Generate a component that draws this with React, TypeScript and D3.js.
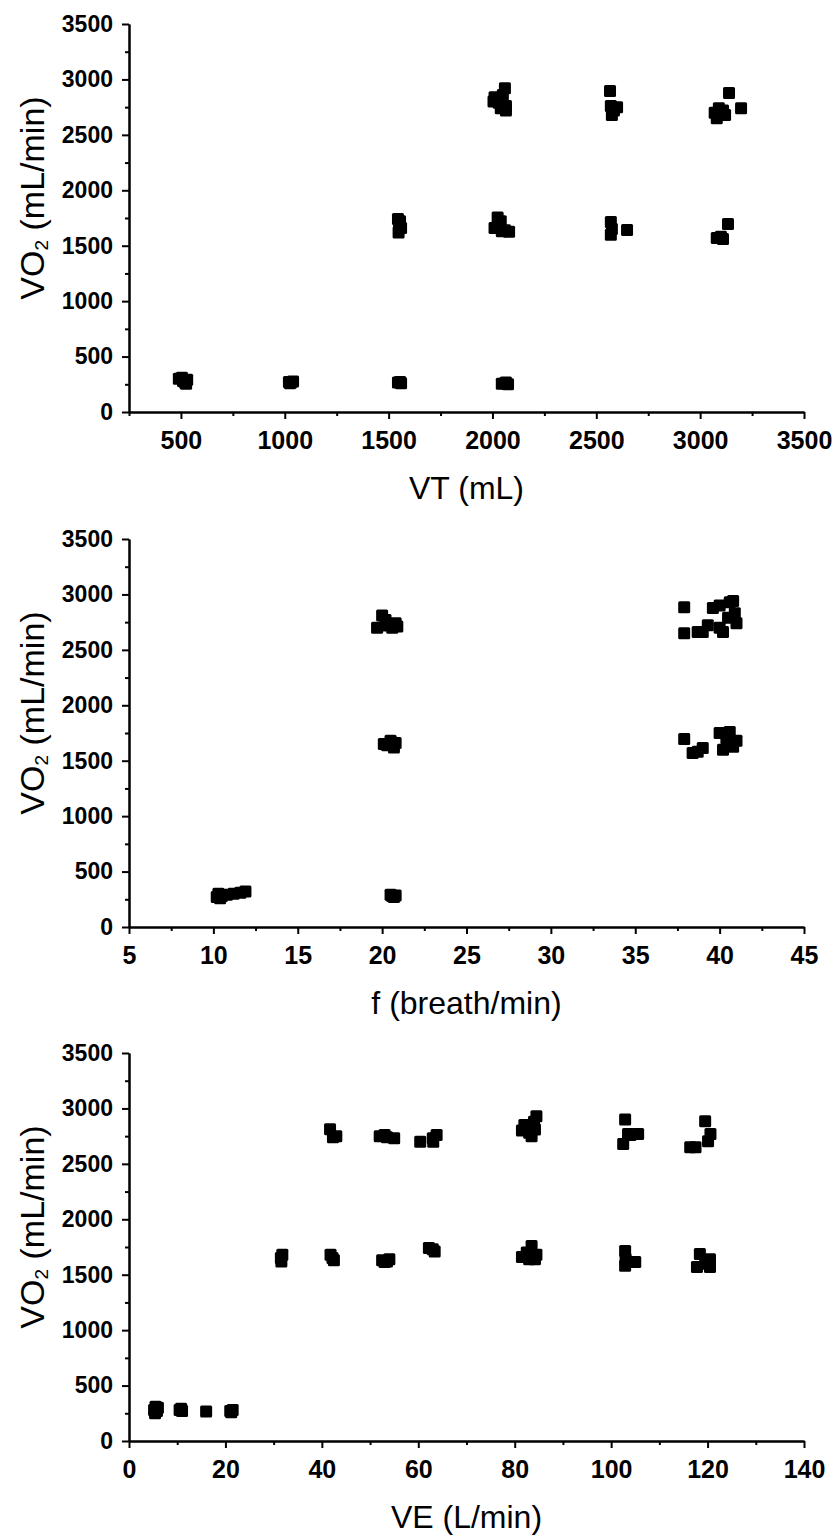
import React, { useEffect, useRef } from 'react';
import * as d3 from 'd3';

// VO2 vs tidal volume
const vtValues = [
  490, 510, 520, 530, 505, 525,
  1020, 1030, 1040, 1025,
  1545, 1560, 1555,
  2045, 2060, 2075, 2065,
  1545, 1550, 1560, 1548, 1555,
  2005, 2010, 2030, 2060, 2050, 2065, 2040, 2020, 2065,
  2566, 2570, 2585, 2600, 2575,
  3070, 3090, 3110, 3080, 3120, 3139, 3197,
  2025, 2040, 2010, 2060, 2080, 2045,
  2570, 2575, 2570, 2648,
  3080, 3100, 3110, 3134,
];
const vtVo2 = [
  300, 280, 265, 290, 310, 255,
  270, 265, 275, 260,
  265, 260, 270,
  255, 260, 250, 265,
  1740, 1700, 1660, 1620, 1720,
  2800, 2840, 2790, 2920, 2860, 2760, 2740, 2810, 2720,
  2895, 2760, 2720, 2750, 2680,
  2700, 2740, 2720, 2650, 2680, 2877, 2740,
  1754, 1720, 1660, 1640, 1625, 1630,
  1713, 1650, 1600, 1641,
  1570, 1580, 1560, 1695,
];

// VO2 vs breathing frequency
const fValues = [
  10.2, 10.3, 10.5, 10.8, 11.2, 11.6, 11.9, 10.4,
  20.5, 20.7, 20.6, 20.8,
  20.1, 20.5, 20.7, 20.8, 20.3,
  19.7, 20.0, 20.3, 20.6, 20.8, 20.2, 20.9,
  37.9, 37.9, 38.7, 39.3, 39.6, 40.0, 40.0, 40.6, 40.9, 41.0, 40.5, 40.2, 40.8, 39.0,
  37.9, 38.4, 39.0, 40.0, 40.6, 40.8, 40.2, 41.0, 38.7, 40.4,
];
const fVo2 = [
  270, 300, 280, 290, 300, 310, 320, 260,
  290, 270, 280, 285,
  1650, 1680, 1620, 1660, 1640,
  2700, 2810, 2720, 2700, 2740, 2770, 2710,
  2885, 2650, 2660, 2723, 2877, 2900, 2700, 2930, 2830, 2740, 2790, 2660, 2940, 2660,
  1695, 1570, 1614, 1750, 1760, 1625, 1600, 1680, 1580, 1700,
];

// VO2 vs minute ventilation
const veValues = [
  5.2, 5.5, 5.8, 6.0, 5.4,
  10.5, 11.0, 10.8,
  16.0,
  21.0, 21.5, 21.2,
  41.7, 42.3, 43.0,
  52.0, 53.5, 55.0, 53.0,
  60.4, 63.1, 63.8, 63.0,
  81.5, 82.0, 83.0, 84.5, 84.0, 83.5, 82.5, 84.2,
  102.9, 103.5, 105.6, 102.5, 104.0,
  119.5, 120.1, 116.4, 120.6, 117.5,
  31.6, 31.8, 31.5,
  41.8, 42.5, 42.2,
  52.5, 53.5, 54.0, 53.0,
  62.2, 63.4, 63.0,
  81.5, 82.5, 83.5, 84.2, 84.5, 83.0,
  102.9, 105.0, 102.9, 103.0,
  118.4, 120.5, 117.8, 120.5, 119.5,
];
const veVo2 = [
  280, 310, 270, 300, 250,
  280, 270, 290,
  265,
  270, 280, 260,
  2813, 2740, 2750,
  2750, 2740, 2730, 2760,
  2700, 2700, 2760, 2730,
  2800, 2850, 2780, 2930, 2880, 2750, 2820, 2810,
  2900, 2770, 2770, 2680, 2760,
  2885, 2705, 2650, 2770, 2650,
  1620, 1680, 1650,
  1680, 1630, 1650,
  1630, 1620, 1640, 1615,
  1740, 1710, 1730,
  1660, 1700, 1760, 1640, 1680, 1640,
  1713, 1614, 1580, 1640,
  1686, 1640, 1570, 1570, 1600,
];

const vo2Major = d3.range(0, 3501, 500);
const vo2Minor = d3.range(250, 3500, 500);
const vtMajor = d3.range(500, 3501, 500);
const vtMinor = d3.range(250, 3500, 500);
const fMajor = d3.range(5, 46, 5);
const fMinor = d3.range(7.5, 45, 5);
const veMajor = d3.range(0, 141, 20);
const veMinor = d3.range(10, 140, 20);

const panels = [
  { xs: vtValues, ys: vtVo2, xDomain: [250, 3500], xMajor: vtMajor, xMinor: vtMinor, xTitle: 'VT (mL)', top: 24 },
  { xs: fValues, ys: fVo2, xDomain: [5, 45], xMajor: fMajor, xMinor: fMinor, xTitle: 'f (breath/min)', top: 539 },
  { xs: veValues, ys: veVo2, xDomain: [0, 140], xMajor: veMajor, xMinor: veMinor, xTitle: 'VE (L/min)', top: 1053 },
];

const W = 835;
const H = 1539;
const left = 129;
const right = 804;
const plotH = 388;
const font = '"Liberation Sans", Arial, sans-serif';

export default function App() {
  const ref = useRef<SVGSVGElement>(null);

  useEffect(() => {
    const svg = d3.select(ref.current);
    svg.selectAll('*').remove();

    panels.forEach((p) => {
      const bottom = p.top + plotH;
      const x = d3.scaleLinear().domain(p.xDomain).range([left, right]);
      const y = d3.scaleLinear().domain([0, 3500]).range([bottom, p.top]);
      const g = svg.append('g');

      // minor ticks first, then major axis on top
      g.append('g')
        .attr('transform', `translate(0,${bottom})`)
        .call(d3.axisBottom(x).tickValues(p.xMinor).tickSize(4).tickSizeOuter(0).tickFormat(() => ''));
      g.append('g')
        .attr('transform', `translate(${left},0)`)
        .call(d3.axisLeft(y).tickValues(vo2Minor).tickSize(4).tickSizeOuter(0).tickFormat(() => ''));

      const xAxis = g.append('g')
        .attr('transform', `translate(0,${bottom})`)
        .call(d3.axisBottom(x).tickValues(p.xMajor).tickSize(7).tickSizeOuter(0).tickPadding(8).tickFormat(d3.format('d')));
      xAxis.selectAll('text').attr('font-size', 25).attr('dy', '0.88em');

      const yAxis = g.append('g')
        .attr('transform', `translate(${left},0)`)
        .call(d3.axisLeft(y).tickValues(vo2Major).tickSize(7).tickSizeOuter(0).tickPadding(9).tickFormat(d3.format('d')));
      yAxis.selectAll('text').attr('font-size', 23);

      g.selectAll('.domain').attr('stroke', '#000').attr('stroke-width', 2);
      g.selectAll('.tick line').attr('stroke', '#000').attr('stroke-width', 2);
      g.selectAll('.tick text').attr('fill', '#000').attr('font-weight', 'bold').attr('font-family', font);

      // points
      const s = 12;
      g.append('g')
        .selectAll('rect')
        .data(p.xs.map((v, i) => [v, p.ys[i]]))
        .join('rect')
        .attr('x', (d) => x(d[0]) - s / 2)
        .attr('y', (d) => y(d[1]) - s / 2)
        .attr('width', s)
        .attr('height', s)
        .attr('rx', 1.5)
        .attr('fill', '#000');

      // axis titles
      g.append('text')
        .attr('x', (left + right) / 2)
        .attr('y', bottom + 87)
        .attr('text-anchor', 'middle')
        .attr('font-family', font)
        .attr('font-size', 32)
        .text(p.xTitle);

      const yt = g.append('text')
        .attr('transform', `translate(44,${(p.top + bottom) / 2 - 20}) rotate(-90)`)
        .attr('text-anchor', 'middle')
        .attr('font-family', font)
        .attr('font-size', 34);
      yt.append('tspan').text('VO');
      yt.append('tspan').attr('font-size', 19).attr('dy', 4).text('2');
      yt.append('tspan').attr('dy', -4).text(' (mL/min)');
    });
  }, []);

  return (
    <div>
      <style>{`body { margin: 0; }`}</style>
      <svg ref={ref} width={W} height={H} style={{ display: 'block', background: '#fff' }} />
    </div>
  );
}
